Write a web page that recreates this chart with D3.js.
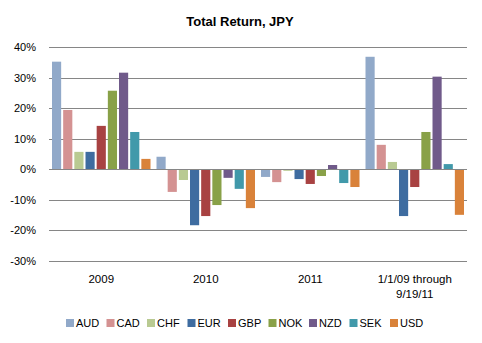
<!DOCTYPE html>
<html>
<head>
<meta charset="utf-8">
<script src="https://cdn.jsdelivr.net/npm/d3@7/dist/d3.min.js"></script>
<style>
  body { margin: 0; background: #fff; }
  svg { display: block; font-family: "Liberation Sans", Arial, sans-serif; }
</style>
</head>
<body>
<svg id="chart" width="482" height="343"></svg>
<script>
// periods on the x axis
const periods = ['2009', '2010', '2011', '1/1/09 through\n9/19/11'];
const currencies = ['AUD', 'CAD', 'CHF', 'EUR', 'GBP', 'NOK', 'NZD', 'SEK', 'USD'];
const colors = ['#91a9c9', '#d49292', '#b9ca92', '#3e6ca0', '#a84242', '#89a148', '#705a8a', '#4199aa', '#d9823a'];

// total return per currency, one value per period (percent)
const aud = [35.2, 4.1, -2.5, 36.8];
const cad = [19.4, -7.4, -4.2, 8.0];
const chf = [5.7, -3.5, -0.5, 2.4];
const eur = [5.7, -18.3, -3.2, -15.3];
const gbp = [14.2, -15.3, -4.8, -5.8];
const nok = [25.7, -11.7, -2.2, 12.2];
const nzd = [31.6, -2.8, 1.4, 30.3];
const sek = [12.2, -6.4, -4.5, 1.7];
const usd = [3.4, -12.7, -5.8, -14.9];

const yTicks = [40, 30, 20, 10, 0, -10, -20, -30];

const series = [aud, cad, chf, eur, gbp, nok, nzd, sek, usd];

const svg = d3.select('#chart');
const margin = { top: 47, right: 15, bottom: 82, left: 49 };
const width = 482, height = 343;

const x0 = d3.scaleBand()
  .domain(periods)
  .range([margin.left, width - margin.right]);

const x1 = d3.scaleBand()
  .domain(currencies)
  .range([3, x0.bandwidth() - 3])
  .paddingInner(0.18);

const y = d3.scaleLinear()
  .domain([-30, 40])
  .range([261, 47]);

// gridlines
svg.append('g')
  .selectAll('line')
  .data(yTicks)
  .join('line')
  .attr('x1', margin.left)
  .attr('x2', width - margin.right)
  .attr('y1', d => Math.round(y(d)) + 0.5)
  .attr('y2', d => Math.round(y(d)) + 0.5)
  .attr('stroke', '#868686')
  .attr('stroke-width', 1.2);

// y tick labels
svg.append('g')
  .selectAll('text')
  .data(yTicks)
  .join('text')
  .attr('x', 36)
  .attr('y', d => y(d) + 4)
  .attr('text-anchor', 'end')
  .attr('font-size', '11px')
  .attr('fill', '#000')
  .text(d => d + '%');

// bars
const groups = svg.append('g')
  .selectAll('g')
  .data(periods)
  .join('g')
  .attr('transform', d => `translate(${x0(d)},0)`);

groups.selectAll('rect')
  .data((p, i) => currencies.map((c, k) => ({ c, k, v: series[k][i] })))
  .join('rect')
  .attr('x', d => x1(d.c))
  .attr('width', x1.bandwidth())
  .attr('y', d => y(Math.max(0, d.v)))
  .attr('height', d => Math.abs(y(d.v) - y(0)))
  .attr('fill', d => colors[d.k]);

// zero line drawn over the bars
svg.append('line')
  .attr('x1', margin.left)
  .attr('x2', width - margin.right)
  .attr('y1', Math.round(y(0)) + 0.5)
  .attr('y2', Math.round(y(0)) + 0.5)
  .attr('stroke', '#868686')
  .attr('stroke-width', 1.2);

// category labels
const cats = svg.append('g')
  .selectAll('text')
  .data(periods)
  .join('text')
  .attr('x', d => x0(d) + x0.bandwidth() / 2)
  .attr('y', 283)
  .attr('text-anchor', 'middle')
  .attr('font-size', '11.5px');

cats.selectAll('tspan')
  .data(d => d.split('\n'))
  .join('tspan')
  .attr('x', function () { return d3.select(this.parentNode).attr('x'); })
  .attr('dy', (d, i) => i === 0 ? 0 : 15)
  .text(d => d);

// title
svg.append('text')
  .attr('x', 240)
  .attr('y', 26)
  .attr('text-anchor', 'middle')
  .attr('font-size', '13px')
  .attr('font-weight', 'bold')
  .text('Total Return, JPY');

// legend
const legendX = d3.scalePoint()
  .domain(currencies)
  .range([66, 390]);

const legend = svg.append('g')
  .selectAll('g')
  .data(currencies)
  .join('g')
  .attr('transform', d => `translate(${legendX(d)},319)`);

legend.append('rect')
  .attr('width', 8)
  .attr('height', 8)
  .attr('fill', (d, i) => colors[i]);

legend.append('text')
  .attr('x', 10)
  .attr('y', 8)
  .attr('font-size', '11px')
  .text(d => d);
</script>
</body>
</html>
